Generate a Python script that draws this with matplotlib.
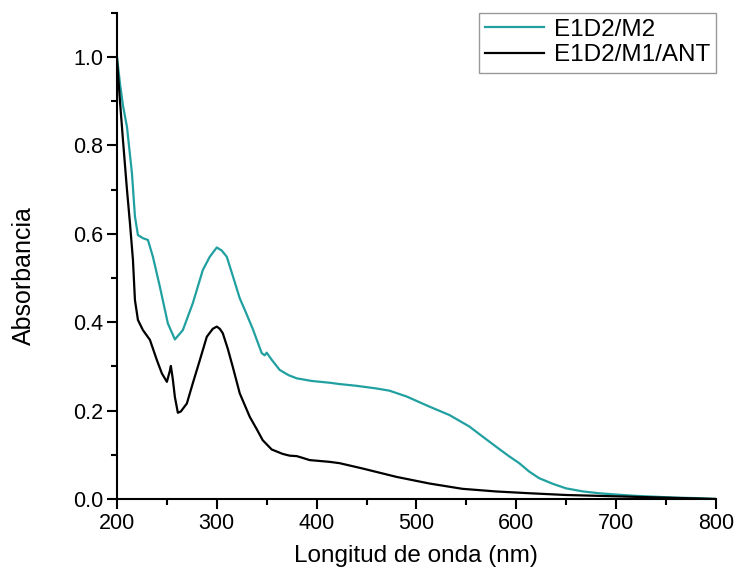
import matplotlib
matplotlib.use("Agg")
import matplotlib.pyplot as plt
from matplotlib.ticker import MultipleLocator, FormatStrFormatter

plt.rcParams['font.family'] = ['Liberation Sans', 'DejaVu Sans']

# Absorption spectra (wavelength in nm, absorbance)
wl_m2 = [200, 203, 206, 210, 215, 218, 221, 226, 231, 236, 243, 251, 258, 266,
         276, 286, 293, 300, 305, 310, 316, 323, 328, 336, 345, 348, 350, 355,
         363, 372, 380, 395, 413, 423, 440, 460, 473, 490, 513, 533, 553, 567,
         580, 592, 603, 613, 623, 637, 650, 667, 683, 700, 720, 740, 760, 780,
         800]
abs_m2 = [1.000, 0.940, 0.890, 0.842, 0.737, 0.639, 0.597, 0.590, 0.586, 0.548,
          0.480, 0.397, 0.361, 0.382, 0.443, 0.518, 0.548, 0.569, 0.562, 0.548,
          0.505, 0.454, 0.428, 0.385, 0.330, 0.325, 0.331, 0.315, 0.292, 0.280,
          0.273, 0.267, 0.263, 0.260, 0.256, 0.250, 0.245, 0.232, 0.209, 0.190,
          0.164, 0.140, 0.118, 0.098, 0.081, 0.062, 0.047, 0.034, 0.024, 0.017,
          0.013, 0.010, 0.007, 0.005, 0.003, 0.002, 0.000]

wl_ant = [200, 203, 206, 210, 213, 216, 218, 221, 226, 233, 240, 245, 250, 253,
          254, 256, 258, 261, 264, 270, 276, 283, 290, 296, 300, 303, 306, 311,
          316, 323, 333, 340, 346, 355, 366, 373, 380, 386, 393, 413, 423, 446,
          480, 513, 546, 580, 613, 650, 700, 750, 800]
abs_ant = [0.995, 0.900, 0.812, 0.700, 0.624, 0.541, 0.450, 0.405, 0.382, 0.360,
           0.314, 0.284, 0.265, 0.290, 0.301, 0.270, 0.231, 0.195, 0.198, 0.216,
           0.262, 0.314, 0.367, 0.385, 0.390, 0.385, 0.375, 0.340, 0.299, 0.239,
           0.186, 0.158, 0.133, 0.112, 0.102, 0.098, 0.097, 0.093, 0.088, 0.084,
           0.081, 0.069, 0.050, 0.035, 0.023, 0.017, 0.013, 0.009, 0.006, 0.003,
           0.000]

teal = '#20a0a0'

fig = plt.figure(figsize=(7.38, 5.79), dpi=100)
ax = fig.add_axes([0.1585, 0.1382, 0.8115, 0.8398])

ax.plot(wl_m2, abs_m2, color=teal, lw=1.6, label='E1D2/M2')
ax.plot(wl_ant, abs_ant, color='black', lw=1.6, label='E1D2/M1/ANT')

ax.set_xlim(200, 800)
ax.set_ylim(0, 1.1)
ax.xaxis.set_major_locator(MultipleLocator(100))
ax.xaxis.set_minor_locator(MultipleLocator(50))
ax.yaxis.set_major_locator(MultipleLocator(0.2))
ax.yaxis.set_minor_locator(MultipleLocator(0.1))
ax.yaxis.set_major_formatter(FormatStrFormatter('%.1f'))

for side in ('top', 'right'):
    ax.spines[side].set_visible(False)
for side in ('left', 'bottom'):
    ax.spines[side].set_linewidth(1.5)

ax.tick_params(which='major', direction='out', length=7, width=1.5,
               labelsize=15.5, pad=3)
ax.tick_params(which='minor', direction='out', length=4, width=1.5)

ax.set_xlabel('Longitud de onda (nm)', fontsize=17.5, labelpad=8)
ax.set_ylabel('Absorbancia', fontsize=18)
ax.yaxis.set_label_coords(-0.135, 0.46)

leg = ax.legend(loc='upper right', bbox_to_anchor=(1.0, 1.0), fontsize=17.5,
                frameon=True, fancybox=False, edgecolor='#808080',
                handlelength=2.4, borderpad=0.25, labelspacing=0.15,
                handletextpad=0.4, borderaxespad=0.0)
leg.get_frame().set_linewidth(1.0)

fig.savefig('out.png', dpi=100)
